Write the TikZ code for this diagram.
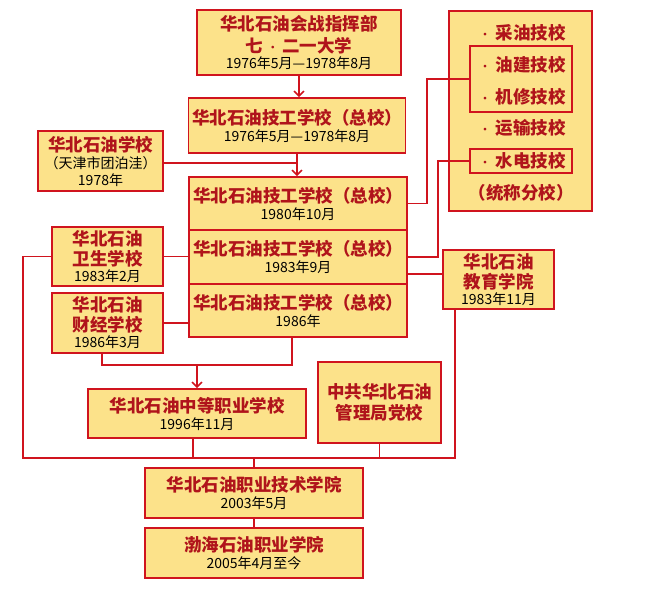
\documentclass[tikz,border=0pt]{standalone}
\usepackage{fontspec}
\setmainfont{Noto Sans CJK SC}
\usetikzlibrary{arrows.meta}
\definecolor{fillY}{HTML}{FCE28A}
\definecolor{bred}{HTML}{D0141E}
\definecolor{tred}{HTML}{B0141B}
\newcommand{\ttl}[1]{{\color{tred}\fontsize{17.5}{20}\selectfont\bfseries #1}}
\newcommand{\dte}[1]{{\color{black}\fontsize{14}{16}\selectfont #1}}
\newcommand{\sdot}{{\mdseries\fontsize{13}{16}\selectfont ·}}
\tikzset{
  box/.style={draw=bred, fill=fillY, line width=1.6pt, align=center, inner sep=0pt,
    font=\fontsize{14}{20}\selectfont},
  conn/.style={draw=bred, line width=1.6pt},
  arr/.style={conn, -{Straight Barb[length=5pt,width=10pt,line width=1.6pt]}},
  ptext/.style={inner sep=0pt, font=\color{tred}\fontsize{17.5}{20}\selectfont\bfseries},
}
\begin{document}
\begin{tikzpicture}[x=1pt,y=-1pt]
\useasboundingbox (0,0) rectangle (660,600);
% main column
\node[box, minimum width=204pt, minimum height=65pt] (A) at (299,42.5)
  {\ttl{华北石油会战指挥部}\\[2pt]\ttl{七\,\sdot\,二一大学}\\[-4pt]\dte{1976年5月—1978年8月}};
\node[box, minimum width=217pt, minimum height=55pt] (B) at (297,125.5)
  {\ttl{华北石油技工学校（总校）}\\[-3pt]\dte{1976年5月—1978年8月}};
\node[box, minimum width=125pt, minimum height=60pt] (C) at (100.5,161)
  {\ttl{华北石油学校}\\[-3pt]\dte{（天津市团泊洼）}\\[-3pt]\dte{1978年}};
\node[box, minimum width=218pt, minimum height=53pt] (D) at (298,203.5)
  {\ttl{华北石油技工学校（总校）}\\[-3pt]\dte{1980年10月}};
\node[box, minimum width=218pt, minimum height=54pt] (E) at (298,257)
  {\ttl{华北石油技工学校（总校）}\\[-3pt]\dte{1983年9月}};
\node[box, minimum width=218pt, minimum height=53pt] (F) at (298,310.5)
  {\ttl{华北石油技工学校（总校）}\\[-3pt]\dte{1986年}};
\node[box, minimum width=111pt, minimum height=59pt] (G) at (107.5,256.5)
  {\ttl{华北石油}\\[0pt]\ttl{卫生学校}\\[-4pt]\dte{1983年2月}};
\node[box, minimum width=111pt, minimum height=60pt] (H) at (107.5,323)
  {\ttl{华北石油}\\[0pt]\ttl{财经学校}\\[-4pt]\dte{1986年3月}};
\node[box, minimum width=218pt, minimum height=49pt] (I) at (197,413.5)
  {\ttl{华北石油中等职业学校}\\[-3pt]\dte{1996年11月}};
\node[box, minimum width=123pt, minimum height=81pt] (J) at (379.5,402.5)
  {\ttl{中共华北石油}\\[1pt]\ttl{管理局党校}};
\node[box, minimum width=218pt, minimum height=50pt] (K) at (254,493)
  {\ttl{华北石油职业技术学院}\\[-3pt]\dte{2003年5月}};
\node[box, minimum width=218pt, minimum height=50pt] (L) at (254,553)
  {\ttl{渤海石油职业学院}\\[-3pt]\dte{2005年4月至今}};
\node[box, minimum width=111pt, minimum height=59pt] (M) at (498.5,279.5)
  {\ttl{华北石油}\\[0pt]\ttl{教育学院}\\[-4pt]\dte{1983年11月}};
% branch schools panel
\node[box, minimum width=143pt, minimum height=200pt] (P) at (520.5,111) {};
\node[box, minimum width=102pt, minimum height=66pt] (P1) at (521,79) {};
\node[box, minimum width=102pt, minimum height=24pt] (P2) at (521,161) {};
\node[ptext] (t1) at (522,33) {\sdot\ 采油技校};
\node[ptext] (t2) at (522,65) {\sdot\ 油建技校};
\node[ptext] (t3) at (522,97) {\sdot\ 机修技校};
\node[ptext] (t4) at (522,128) {\sdot\ 运输技校};
\node[ptext] (t5) at (522,161) {\sdot\ 水电技校};
\node[ptext] (t6) at (521,193) {（统称分校）};
% connectors
\draw[arr] (A.south) -- (A.south |- B.north);
\draw[arr] (B.south) -- (B.south |- D.north);
\draw[conn] ([yshift=-2pt]C.east) -- ([yshift=-2pt]C.east -| B.south);
\draw[conn] (G.east) -- (G.east -| E.west);
\draw[conn] (H.east) -- (H.east -| F.west);
\coordinate (busL) at (23,458);
\coordinate (busR) at (455,458);
\draw[conn] (G.west) -| (busL) -- (busR) -- (busR |- M.south);
\draw[conn] ([xshift=-4pt]I.south) -- ([xshift=-4pt]I.south |- busL);
\draw[conn] (J.south) -- (J.south |- busL);
\draw[conn] (K.north |- busL) -- (K.north);
\draw[conn] (K.south) -- (L.north);
\draw[conn] ([xshift=-5.5pt]H.south) -- ++(0,11) -| ([xshift=-6pt]F.south);
\coordinate (jn) at (197,364);
\draw[arr] (jn) -- (I.north);
\draw[conn] (D.east) -- ++(19,0) |- (P1.west);
\draw[conn] (E.east) -- ++(30,0) |- (P2.west);
\draw[conn] ([yshift=5.5pt]M.west) -- ([yshift=5.5pt]M.west -| E.east);
\end{tikzpicture}
\end{document}
